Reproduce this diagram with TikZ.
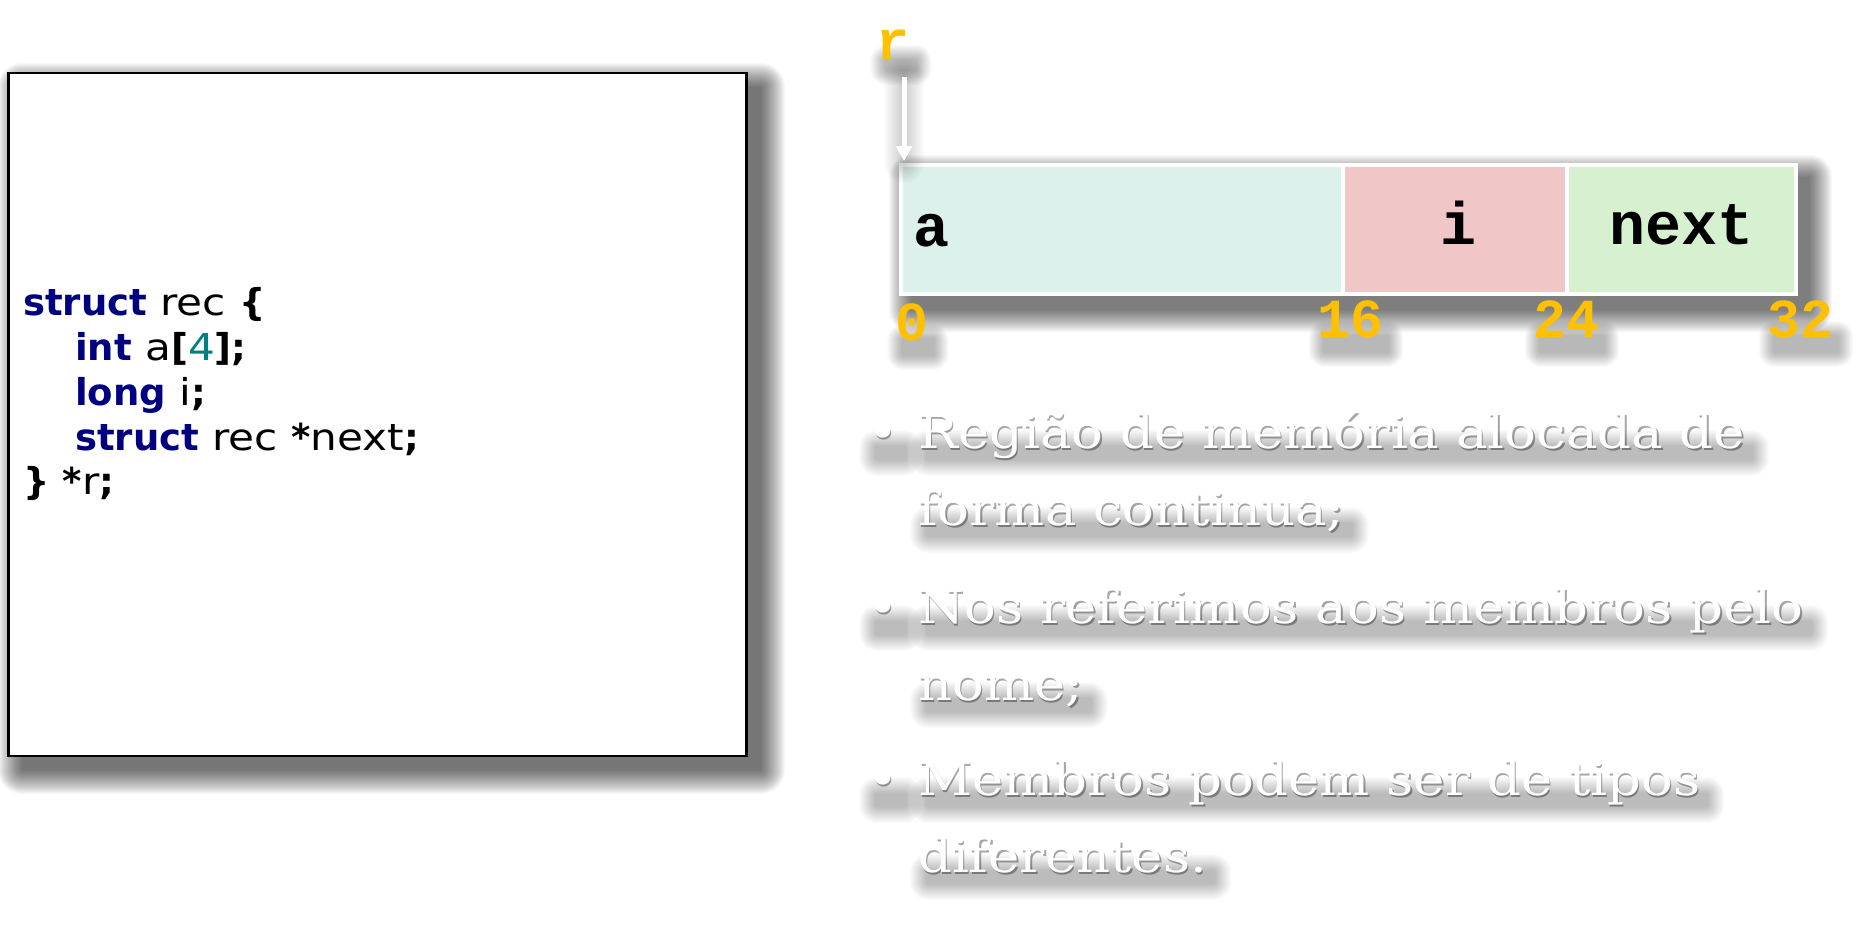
\documentclass[tikz,border=0pt]{standalone}
\usepackage{fontspec}
\setmainfont{DejaVu Sans}
\newfontfamily\codefont[FakeStretch=1.14]{DejaVu Sans}
\newfontfamily\codebf{DejaVu Sans}
\newfontfamily\memfont{Liberation Mono}
\newfontfamily\bulfont[FakeStretch=1.15]{DejaVu Serif}
\usetikzlibrary{arrows.meta}
\pgfdeclarelayer{bg}
\pgfsetlayers{bg,main}
\definecolor{kw}{RGB}{0,0,128}
\definecolor{num}{RGB}{0,128,128}
\definecolor{gold}{RGB}{255,192,0}
\definecolor{cellA}{RGB}{220,241,235}
\definecolor{cellI}{RGB}{241,198,198}
\definecolor{cellN}{RGB}{215,240,208}
\newcommand\kwd[1]{{\codebf\bfseries\color{kw}#1}}
\newcommand\pbd[1]{{\codebf\bfseries #1}}
\tikzset{
  codeline/.style={anchor=base west, inner sep=0pt, font=\codefont\fontsize{37}{44}\selectfont},
  memcell/.style={draw=white, line width=4pt, inner sep=0pt, minimum height=129pt},
  memtext/.style={inner sep=0pt, font=\memfont\bfseries\fontsize{60}{60}\selectfont, text=black},
  offlabel/.style={anchor=base, inner sep=0pt, font=\memfont\bfseries\fontsize{55}{55}\selectfont, text=gold},
  bultext/.style={anchor=base west, inner sep=0pt, font=\bulfont\fontsize{46}{50}\selectfont, text=white},
  ptrarrow/.style={line width=5pt, -{Triangle[width=16pt,length=15pt]}}
}
% soft shadow band under a text node: #1 node, #2 dx, #3 dy (down), #4 core height, #5 spread, #6 opacity
\newcommand\haze[6]{%
  \begin{pgfonlayer}{bg}
  \foreach \i in {0,...,#5}
    \fill[black, opacity=#6, rounded corners={(2+\i)*1pt}]
      ([xshift={(#2-\i)*1pt}, yshift={(#4-#3+\i)*1pt}]#1.base west) rectangle
      ([xshift={(#2+\i)*1pt}, yshift={(-#3-\i)*1pt}]#1.base east);
  \end{pgfonlayer}}
% white text with crisp edge shadow and soft shadow: #1 name, #2 x, #3 y, #4 text
\newcommand\bultxt[4]{%
  \node[bultext, text=black, opacity=0.35] (#1-c) at (#2+1.5,#3+2) {#4};
  \node[bultext] (#1) at (#2,#3) {#4};
  \haze{#1}{8}{12}{14}{16}{0.017}}
\begin{document}
\begin{tikzpicture}[x=1pt,y=-1pt]
\begin{pgfonlayer}{bg}
\fill[white] (0,0) rectangle (1860,926);
\end{pgfonlayer}
\useasboundingbox (0,0) rectangle (1860,926);

% ---- code box with soft shadow
\foreach \i in {0,...,24}
  \fill[black,opacity=0.027, rounded corners={\i*1pt}] (8+14-\i,73+14-\i) rectangle (747+14+\i,756+14+\i);
\node[draw=black, line width=2.7pt, fill=white, inner sep=0pt,
      minimum width=737.6pt, minimum height=683pt] (codebox) at (377.5,414.5) {};

\node[codeline] (l1) at (23,315) {\kwd{struct} rec \pbd{\{}};
\node[codeline] (l2) at (75,360) {\kwd{int} a\pbd{[}{\color{num}4}\pbd{];}};
\node[codeline] (l3) at (75,405) {\kwd{long} i\pbd{;}};
\node[codeline] (l4) at (75,450) {\kwd{struct} rec \pbd{*}next\pbd{;}};
\node[codeline] (l5) at (23,494) {\pbd{\}} \pbd{*}r\pbd{;}};

% ---- memory cells with soft shadow
\foreach \i in {0,...,22}
  \fill[black,opacity=0.028, rounded corners={\i*1pt}] (899+12-\i,163+14-\i) rectangle (1798+12+\i,296+14+\i);
\node[memcell, fill=cellA, minimum width=442pt] (cella) at (1122,229.5) {};
\node[memcell, fill=cellI, minimum width=224pt] (celli) at (1455,229.5) {};
\node[memcell, fill=cellN, minimum width=229pt] (celln) at (1681.5,229.5) {};

\node[memtext, anchor=base west] (ta) at (913,246) {a};
\node[memtext, anchor=base] (ti) at (1458,244) {i};
\node[memtext, anchor=base] (tn) at (1681,244) {next};

% ---- offsets
\node[offlabel] (o0) at (912,340) {0};
\node[offlabel] (o16) at (1350,337) {16};
\node[offlabel] (o24) at (1566,337) {24};
\node[offlabel] (o32) at (1800,337) {32};
\foreach \n in {o0,o16,o24,o32} {\haze{\n}{6}{16}{18}{14}{0.018}}

% ---- pointer r
\node[offlabel] (rlbl) at (893,59) {r};
\haze{rlbl}{8}{12}{12}{14}{0.02}
\coordinate (rtail) at (904,77);
\foreach \w in {4,8,...,40}
  \draw[black, opacity=0.02, line width=\w pt, line cap=round, shift={(12,4)}]
    (rtail) -- (rtail |- cella.north);
\draw[ptrarrow, white, shorten >=2pt] (rtail) -- (rtail |- cella.north);

% ---- bullets
\bultxt{b1}{867}{448}{•}
\bultxt{b2}{867}{623}{•}
\bultxt{b3}{867}{795}{•}
\bultxt{t1}{918}{448}{Região de memória alocada de}
\bultxt{t2}{918}{525}{forma continua;}
\bultxt{t3}{918}{623}{Nos referimos aos membros pelo}
\bultxt{t4}{918}{700}{nome;}
\bultxt{t5}{918}{795}{Membros podem ser de tipos}
\bultxt{t6}{918}{872}{diferentes.}
\end{tikzpicture}
\end{document}
